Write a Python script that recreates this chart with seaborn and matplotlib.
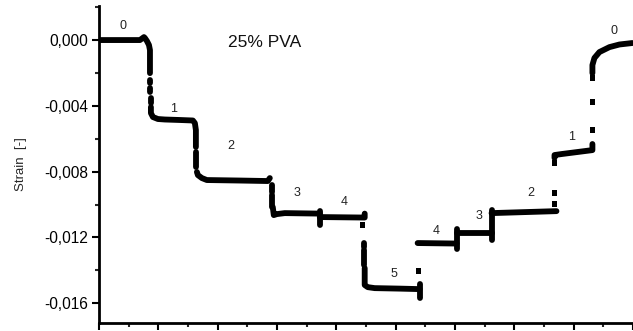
import numpy as np
import pandas as pd
import matplotlib
matplotlib.use("Agg")
import matplotlib.pyplot as plt
from matplotlib.ticker import MultipleLocator
import seaborn as sns

# ---- data (time in arbitrary units, strain in 1e-3) ----
seg_id = [1]*9 + [2]*2 + [3]*2 + [4]*2 + [5]*10 + [6]*2 + [7]*7 + [8]*2 + [9]*2 + \
         [10]*5 + [11]*2 + [12]*3 + [13]*2 + [14]*2 + [15]*6 + [16]*2 + [17]*2 + \
         [18]*2 + [19]*2 + [20]*2 + [21]*2 + [22]*5 + [23]*7
time = [0, 69.0, 75.8, 77.4, 80.8, 84.2, 85.9, 85.9, 85.9,
        85.9, 85.9,
        85.9, 85.9,
        87.5, 87.5,
        87.5, 87.5, 90.9, 99.3, 111.1, 136.4, 158.2, 161.6, 163.3, 163.3,
        163.3, 163.3,
        165.0, 166.7, 173.4, 181.8, 237.4, 284.5, 287.9,
        291.2, 291.2,
        291.2, 291.2,
        292.9, 294.6, 299.7, 313.1, 372.1,
        372.1, 372.1,
        372.1, 447.8, 447.8,
        446.1, 446.1,
        446.1, 446.1,
        447.8, 447.8, 452.9, 464.6, 506.7, 540.4,
        540.4, 540.4,
        537.0, 602.7,
        602.7, 602.7,
        602.7, 661.6,
        661.6, 661.6,
        661.6, 771.0,
        767.7, 767.7, 779.5, 831.6, 831.6,
        831.6, 831.6, 835.0, 843.4, 860.3, 877.1, 899.0]
strain_e3 = [0, 0, 0.18, 0.12, -0.06, -0.30, -0.61, -1.22, -2.01,
             -2.43, -2.61,
             -2.92, -3.16,
             -3.53, -3.83,
             -4.07, -4.44, -4.68, -4.80, -4.83, -4.86, -4.89, -5.05, -5.47, -6.50,
             -6.81, -7.72,
             -8.02, -8.21, -8.39, -8.51, -8.54, -8.57, -8.39,
             -8.81, -9.24,
             -9.42, -10.15,
             -10.15, -10.64, -10.58, -10.52, -10.55,
             -10.40, -11.25,
             -10.76, -10.79, -10.55,
             -12.34, -12.58,
             -12.77, -13.68,
             -13.86, -14.89, -15.02, -15.08, -15.11, -15.14,
             -14.83, -15.68,
             -12.34, -12.37,
             -11.49, -12.71,
             -11.73, -11.73,
             -10.33, -12.16,
             -10.52, -10.40,
             -7.17, -6.99, -6.93, -6.69, -6.32,
             -2.01, -1.52, -1.09, -0.73, -0.43, -0.27, -0.18]
dot_time = [444.4, 538.7, 767.7, 767.7, 767.7, 831.6, 831.6, 831.6]
dot_strain_e3 = [-11.25, -14.04, -9.97, -9.30, -7.48, -5.47, -3.77, -2.31]

label_text = ["0", "1", "2", "3", "4", "5", "4", "3", "2", "1", "0"]
label_time = [41.2, 126.3, 222.2, 333.3, 412.5, 496.6, 569.0, 639.7, 727.3, 796.3, 868.7]
label_strain_e3 = [0.85, -4.18, -6.44, -9.30, -9.85, -14.22, -11.61, -10.70, -9.30, -5.90, 0.55]

yticks = [0.0, -0.004, -0.008, -0.012, -0.016]
yticklabels = ["0,000", "-0,004", "-0,008", "-0,012", "-0,016"]

df = pd.DataFrame({"seg": seg_id, "t": time, "strain": np.array(strain_e3) * 1e-3})
dots = pd.DataFrame({"t": dot_time, "strain": np.array(dot_strain_e3) * 1e-3})

sns.set_theme(style="ticks")
plt.rcParams["font.family"] = ["Liberation Sans", "DejaVu Sans"]

fig = plt.figure(figsize=(6.33, 3.31), dpi=100)
ax = fig.add_axes([99/633, 8/331, 534/633, 317/331])

sns.lineplot(data=df, x="t", y="strain", units="seg", estimator=None, sort=False,
             color="black", linewidth=4.2, ax=ax, legend=False)
sns.scatterplot(data=dots, x="t", y="strain", marker="s", s=16, color="black",
                edgecolor="none", ax=ax, legend=False)

for txt, tx, ty in zip(label_text, label_time, label_strain_e3):
    ax.text(tx, ty * 1e-3, txt, ha="center", va="center", fontsize=9, color="#222222")
ax.text(265 / 0.594 - 99 / 0.594, -0.12e-3, "25% PVA", ha="center", va="center",
        fontsize=12.5, color="#111111")

ax.set_xlim(0, 900)
ax.set_ylim(-0.0172, 0.00207)
ax.xaxis.set_major_locator(MultipleLocator(100))
ax.xaxis.set_minor_locator(MultipleLocator(50))
ax.set_xticklabels([])
ax.set_yticks(yticks)
ax.set_yticklabels(yticklabels)
ax.yaxis.set_minor_locator(MultipleLocator(0.002))
ax.tick_params(axis="both", which="major", direction="out", length=5, width=1.5,
               labelsize=11.2, pad=3, colors="black")
ax.tick_params(axis="both", which="minor", direction="out", length=3, width=1.5)
ax.set_xlabel("")
ax.set_ylabel("Strain  [-]", fontsize=9.5, labelpad=12)
for side in ["top", "right"]:
    ax.spines[side].set_visible(False)
for side in ["left", "bottom"]:
    ax.spines[side].set_linewidth(2)
    ax.spines[side].set_color("black")

fig.savefig("out.png", dpi=100)
